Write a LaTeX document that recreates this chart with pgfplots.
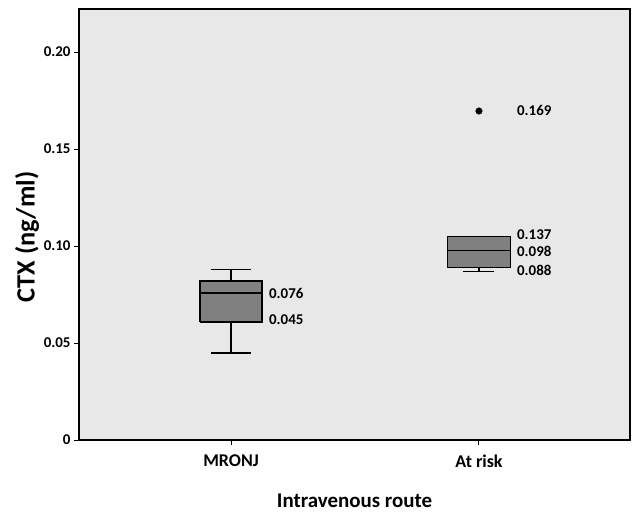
\documentclass[border=0pt]{standalone}
\usepackage{pgfplots}
\pgfplotsset{compat=1.18}
\usepackage{fontspec}
\setmainfont{Carlito}
\definecolor{bg}{HTML}{E8E8E8}
\definecolor{boxgray}{HTML}{808080}
\tikzset{seg/.style={draw=black, line width=1.5bp, mark=none, solid}}
\begin{document}
\begin{tikzpicture}
\useasboundingbox (-79bp,-74bp) rectangle (554bp,440bp);
\begin{axis}[
  scale only axis, width=551bp, height=431bp,
  xmin=0.387, xmax=2.609, ymin=0, ymax=0.2222,
  xtick={1,2}, xticklabels={MRONJ, At risk},
  ytick={0,0.05,0.1,0.15,0.2}, yticklabels={0,0.05,0.10,0.15,0.20},
  tick align=outside, major tick length=5bp, xtick pos=bottom, ytick pos=left,
  axis background/.style={fill=bg},
  axis line style={line width=1.3bp},
  tick style={black, line width=1bp},
  xticklabel style={font=\bfseries\fontsize{18}{18}\selectfont, yshift=-6bp},
  yticklabel style={font=\bfseries\fontsize{15}{15}\selectfont},
  xlabel={Intravenous route}, ylabel={CTX (ng/ml)},
  xlabel style={font=\bfseries\fontsize{21}{21}\selectfont, at={(axis description cs:0.5,-0.1408)}, anchor=center},
  ylabel style={font=\bfseries\fontsize{26.5}{26.5}\selectfont, at={(axis description cs:-0.0944,0.471)}, anchor=center},
  clip=false,
]
% MRONJ: whiskers
\addplot[seg] coordinates {(1,0.0820) (1,0.0880)};
\addplot[seg] coordinates {(0.92,0.0880) (1.08,0.0880)};
\addplot[seg] coordinates {(1,0.0608) (1,0.0448)};
\addplot[seg] coordinates {(0.92,0.0448) (1.08,0.0448)};
% MRONJ: box (lower quartile 0.0608, upper quartile 0.0820)
\addplot[seg, fill=boxgray, line join=miter] coordinates {(0.875,0.0608) (1.125,0.0608) (1.125,0.0820) (0.875,0.0820) (0.875,0.0608)};
% MRONJ: median
\addplot[seg] coordinates {(0.875,0.0758) (1.125,0.0758)};
% At risk: whiskers
\addplot[seg] coordinates {(2,0.0890) (2,0.0868)};
\addplot[seg] coordinates {(1.9375,0.0868) (2.0625,0.0868)};
\addplot[seg] coordinates {(1.9375,0.1050) (2.0625,0.1050)};
% At risk: box (lower quartile 0.0890, upper quartile 0.1048)
\addplot[seg, fill=boxgray, line join=miter] coordinates {(1.873,0.0890) (2.127,0.0890) (2.127,0.1048) (1.873,0.1048) (1.873,0.0890)};
% At risk: median
\addplot[seg] coordinates {(1.873,0.0976) (2.127,0.0976)};
% At risk: outlier
\addplot[only marks, mark=*, mark size=3.3bp, black, mark options={fill=black}] coordinates {(2,0.1696)};
\begin{scope}[every node/.style={font=\bfseries\fontsize{15}{15}\selectfont, anchor=west, inner sep=0pt}]
\node at (axis cs:1.153,0.0758) {0.076};
\node at (axis cs:1.153,0.0619) {0.045};
\node at (axis cs:2.153,0.1701) {0.169};
\node at (axis cs:2.153,0.1057) {0.137};
\node at (axis cs:2.153,0.0974) {0.098};
\node at (axis cs:2.153,0.0876) {0.088};
\end{scope}
\end{axis}
\end{tikzpicture}
\end{document}
